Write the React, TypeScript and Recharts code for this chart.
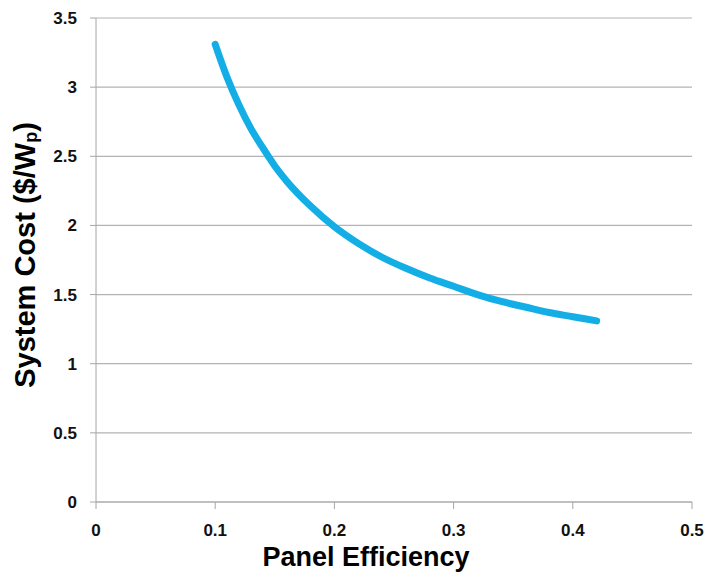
import React from 'react';
import { LineChart, Line, XAxis, YAxis, CartesianGrid } from 'recharts';

// values
const efficiency = [0.1, 0.11, 0.12, 0.13, 0.14, 0.15, 0.16, 0.18, 0.2, 0.22, 0.24, 0.26, 0.28, 0.3, 0.32, 0.34, 0.36, 0.38, 0.4, 0.42];
const systemCost = [3.31, 3.07, 2.87, 2.7, 2.56, 2.43, 2.32, 2.14, 1.99, 1.87, 1.77, 1.69, 1.62, 1.56, 1.5, 1.45, 1.41, 1.37, 1.34, 1.31];
const xTicks = [0, 0.1, 0.2, 0.3, 0.4, 0.5];
const yTicks = [0, 0.5, 1, 1.5, 2, 2.5, 3, 3.5];

const data = efficiency.map((e, i) => ({ eff: e, cost: systemCost[i] }));

const FONT = '"Liberation Sans", Arial, sans-serif';

// custom tick renderers so the bold 17px text sticks
const XTick = ({ x, y, payload }: any) => (
  <text x={x} y={y} dy={12} textAnchor="middle" fill="#111" fontSize={17} fontWeight={700} fontFamily={FONT}>
    {String(payload.value)}
  </text>
);

const YTick = ({ x, y, payload }: any) => (
  <text x={x} y={y} dy={6} textAnchor="end" fill="#111" fontSize={17} fontWeight={700} fontFamily={FONT}>
    {String(payload.value)}
  </text>
);

const YTitle = () => (
  <text
    x={25}
    y={255}
    transform="rotate(-90, 25, 255)"
    textAnchor="middle"
    dominantBaseline="central"
    fill="#000"
    fontSize={29}
    fontWeight={700}
    fontFamily={FONT}
  >
    System Cost ($/W
    <tspan fontSize={18} dy={6}>p</tspan>
    <tspan dy={-6}>)</tspan>
  </text>
);

const XTitle = () => (
  <text
    x={366}
    y={557}
    textAnchor="middle"
    dominantBaseline="central"
    fill="#000"
    fontSize={27}
    fontWeight={700}
    fontFamily={FONT}
  >
    Panel Efficiency
  </text>
);

export default function App() {
  return (
    <div style={{ position: 'fixed', left: 0, top: 0, width: 707, height: 573, overflow: 'hidden', background: '#fff' }}>
      <LineChart width={707} height={573} data={data} margin={{ top: 18, right: 15, left: 0, bottom: 0 }}>
        <CartesianGrid vertical={false} stroke="#b3b3b3" strokeWidth={1.2} />
        <XAxis
          type="number"
          dataKey="eff"
          domain={[0, 0.5]}
          ticks={xTicks}
          height={71}
          stroke="#a6a6a6"
          tickSize={7}
          tickMargin={15}
          tick={<XTick />}
          label={<XTitle />}
        />
        <YAxis
          type="number"
          domain={[0, 3.5]}
          ticks={yTicks}
          width={96}
          stroke="#a6a6a6"
          tickSize={6}
          tickMargin={13}
          tick={<YTick />}
          label={<YTitle />}
        />
        <Line
          type="monotone"
          dataKey="cost"
          stroke="#13aee6"
          strokeWidth={7}
          strokeLinecap="round"
          dot={false}
          isAnimationActive={false}
        />
      </LineChart>
    </div>
  );
}
